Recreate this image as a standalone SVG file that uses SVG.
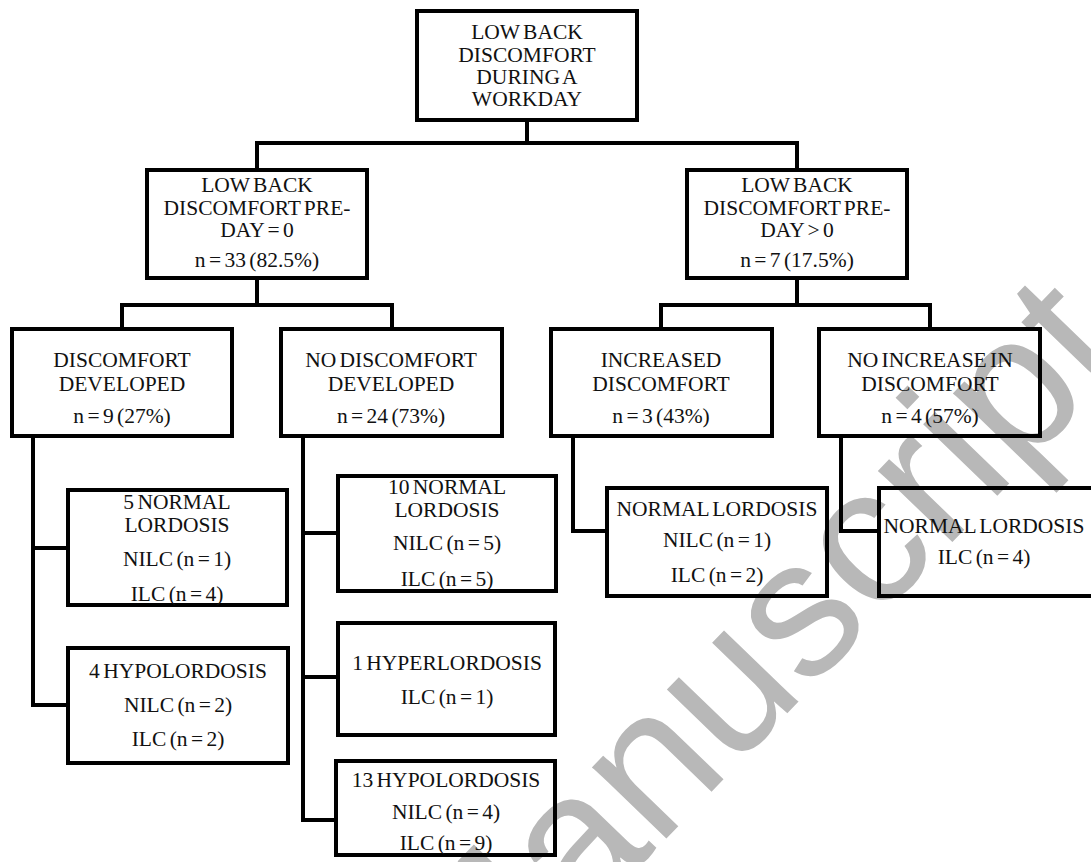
<svg xmlns="http://www.w3.org/2000/svg" width="1091" height="862" viewBox="0 0 1091 862">
<style>
.box{fill:none;stroke:#000;stroke-width:4}
.con{fill:none;stroke:#000;stroke-width:4;stroke-linejoin:miter}
.t{font-family:'Liberation Serif','DejaVu Serif',serif;font-size:21.5px;fill:#111;text-anchor:middle;word-spacing:-2px}
.wm{font-family:'Liberation Sans','DejaVu Sans',sans-serif;font-size:195px;fill:#b8b8b8}
</style>
<rect x="0" y="0" width="1091" height="862" fill="#fff"/>
<text class="wm" text-anchor="middle" transform="translate(800,700) rotate(-46)" x="0" y="0">Manuscript</text>
<g id="connectors">
<path class="con" d="M257 168 V143 H797 V168 M527 122 V143"/>
<path class="con" d="M122 327 V305 H392 V327 M257 280 V305"/>
<path class="con" d="M661 327 V305 H930 V327 M797 280 V305"/>
<path class="con" d="M33 438 V705 H66 M33 548 H66"/>
<path class="con" d="M303 438 V820 H334 M303 533 H336 M303 677 H336"/>
<path class="con" d="M573 438 V531 H605"/>
<path class="con" d="M841 438 V531 H877"/>
</g>
<g id="root" class="t">
<rect class="box" x="417" y="11" width="220" height="109"/>
<text x="527" y="39">LOW BACK</text>
<text x="527" y="62">DISCOMFORT</text>
<text x="527" y="84">DURING A</text>
<text x="527" y="106">WORKDAY</text>
</g>
<g id="pre0" class="t">
<rect class="box" x="147" y="170" width="220" height="108"/>
<text x="257" y="192">LOW BACK</text>
<text x="257" y="215">DISCOMFORT PRE-</text>
<text x="257" y="237">DAY = 0</text>
<text x="257" y="267">n = 33 (82.5%)</text>
</g>
<g id="pregt0" class="t">
<rect class="box" x="687" y="170" width="220" height="108"/>
<text x="797" y="192">LOW BACK</text>
<text x="797" y="215">DISCOMFORT PRE-</text>
<text x="797" y="237">DAY &gt; 0</text>
<text x="797" y="267">n = 7 (17.5%)</text>
</g>
<g id="discdev" class="t">
<rect class="box" x="12" y="329" width="220" height="107"/>
<text x="122" y="367">DISCOMFORT</text>
<text x="122" y="391">DEVELOPED</text>
<text x="122" y="423">n = 9 (27%)</text>
</g>
<g id="nodiscdev" class="t">
<rect class="box" x="281" y="329" width="221" height="107"/>
<text x="391" y="367">NO DISCOMFORT</text>
<text x="391" y="391">DEVELOPED</text>
<text x="391" y="423">n = 24 (73%)</text>
</g>
<g id="incdisc" class="t">
<rect class="box" x="551" y="329" width="221" height="107"/>
<text x="661" y="367">INCREASED</text>
<text x="661" y="391">DISCOMFORT</text>
<text x="661" y="423">n = 3 (43%)</text>
</g>
<g id="noincdisc" class="t">
<rect class="box" x="819" y="329" width="221" height="107"/>
<text x="930" y="367">NO INCREASE IN</text>
<text x="930" y="391">DISCOMFORT</text>
<text x="930" y="423">n = 4 (57%)</text>
</g>
<g id="a-normal" class="t">
<rect class="box" x="68" y="490" width="219" height="115"/>
<text x="177" y="509">5 NORMAL</text>
<text x="177" y="532">LORDOSIS</text>
<text x="177" y="566">NILC (n = 1)</text>
<text x="177" y="601">ILC (n = 4)</text>
</g>
<g id="a-hypo" class="t">
<rect class="box" x="68" y="648" width="220" height="115"/>
<text x="178" y="678">4 HYPOLORDOSIS</text>
<text x="178" y="712">NILC (n = 2)</text>
<text x="178" y="746">ILC (n = 2)</text>
</g>
<g id="b-normal" class="t">
<rect class="box" x="338" y="476" width="218" height="115"/>
<text x="447" y="494">10 NORMAL</text>
<text x="447" y="517">LORDOSIS</text>
<text x="447" y="550">NILC (n = 5)</text>
<text x="447" y="586">ILC (n = 5)</text>
</g>
<g id="b-hyper" class="t">
<rect class="box" x="338" y="623" width="217" height="112"/>
<text x="447" y="670">1 HYPERLORDOSIS</text>
<text x="447" y="704">ILC (n = 1)</text>
</g>
<g id="b-hypo" class="t">
<rect class="box" x="336" y="761" width="219" height="94"/>
<text x="446" y="787">13 HYPOLORDOSIS</text>
<text x="446" y="819">NILC (n = 4)</text>
<text x="446" y="850">ILC (n = 9)</text>
</g>
<g id="c-normal" class="t">
<rect class="box" x="607" y="488" width="220" height="108"/>
<text x="717" y="516">NORMAL LORDOSIS</text>
<text x="717" y="547">NILC (n = 1)</text>
<text x="717" y="582">ILC (n = 2)</text>
</g>
<g id="d-normal" class="t">
<rect class="box" x="879" y="488" width="220" height="108"/>
<text x="984" y="533">NORMAL LORDOSIS</text>
<text x="984" y="564">ILC (n = 4)</text>
</g>
</svg>
